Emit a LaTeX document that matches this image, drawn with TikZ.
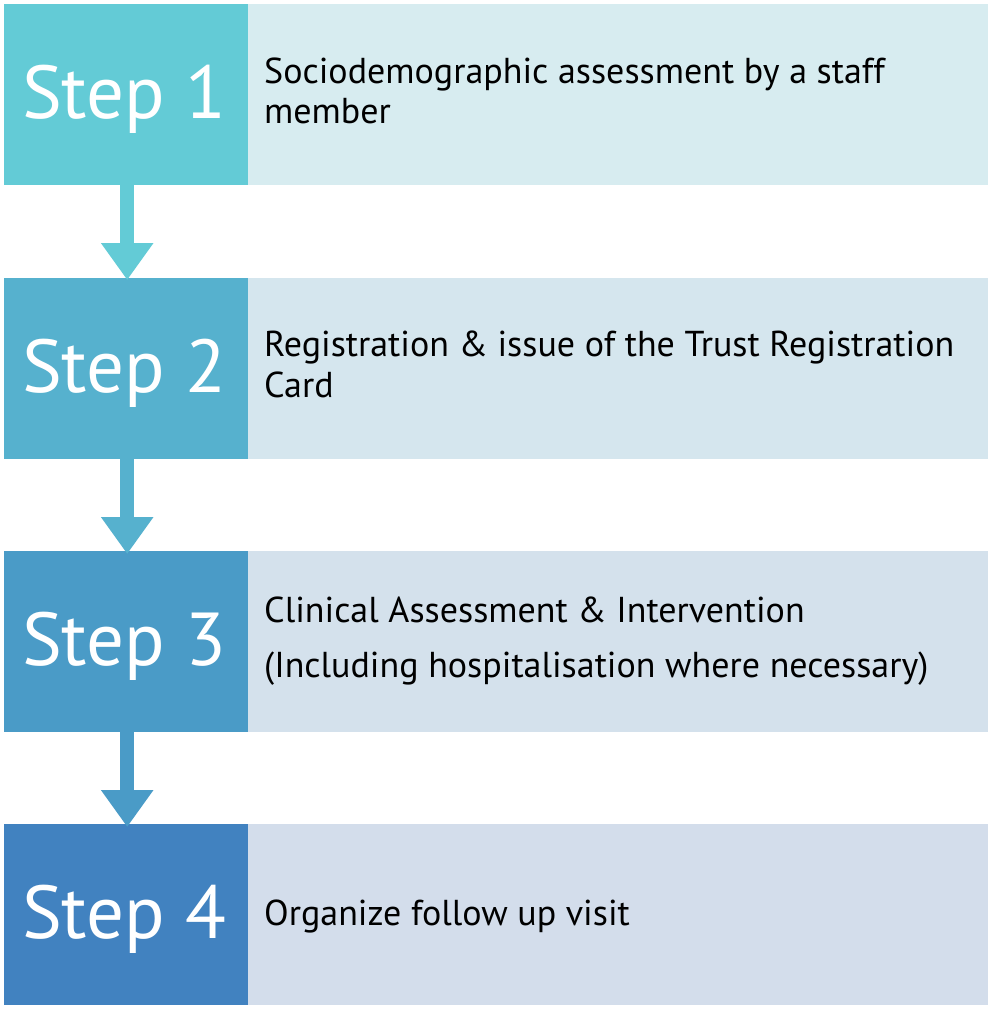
\documentclass[tikz,border=0pt]{standalone}
\usepackage{fontspec}
\setmainfont{PT Sans}
\usetikzlibrary{arrows.meta}
\definecolor{dA}{RGB}{99,203,214}
\definecolor{dB}{RGB}{86,177,206}
\definecolor{dC}{RGB}{74,155,199}
\definecolor{dD}{RGB}{65,130,192}
\definecolor{lA}{RGB}{215,236,240}
\definecolor{lB}{RGB}{213,230,238}
\definecolor{lC}{RGB}{212,225,236}
\definecolor{lD}{RGB}{211,221,235}
\tikzset{
  stepbox/.style={draw=none, inner sep=0pt, minimum width=244pt, minimum height=181pt, anchor=north west},
  descbox/.style={draw=none, inner sep=0pt, minimum width=740pt, minimum height=181pt, anchor=north west},
  steplabel/.style={text=white, inner sep=0pt, anchor=base, font=\fontsize{75}{75}\selectfont},
  desclabel/.style={text=black, inner sep=0pt, anchor=base west, font=\fontsize{36}{36}\selectfont},
  flow/.style={line width=14pt, -{Triangle[width=50pt,length=37pt]}}
}
\begin{document}
\begin{tikzpicture}[x=1pt,y=-1pt]
\useasboundingbox (0,0) rectangle (994,1014);
\fill[white] (0,0) rectangle (994,1014);
% boxes
\node[stepbox, fill=dA] (s1) at (4,4) {};
\node[descbox, fill=lA] (d1) at (248,4) {};
\node[stepbox, fill=dB] (s2) at (4,278) {};
\node[descbox, fill=lB] (d2) at (248,278) {};
\node[stepbox, fill=dC] (s3) at (4,551) {};
\node[descbox, fill=lC] (d3) at (248,551) {};
\node[stepbox, fill=dD] (s4) at (4,824) {};
\node[descbox, fill=lD] (d4) at (248,824) {};
% step labels
\node[steplabel] (t1) at (124,118) {Step 1};
\node[steplabel] (t2) at (124,392) {Step 2};
\node[steplabel] (t3) at (124,665) {Step 3};
\node[steplabel] (t4) at (124,938) {Step 4};
% descriptions
\node[desclabel] (a1) at (264,84) {Sociodemographic assessment by a staff};
\node[desclabel] (b1) at (264,124) {member};
\node[desclabel] (a2) at (264,356) {Registration \& issue of the Trust Registration};
\node[desclabel] (b2) at (264,397) {Card};
\node[desclabel] (a3) at (264,622) {Clinical Assessment \& Intervention};
\node[desclabel] (b3) at (264,677) {(Including hospitalisation where necessary)};
\node[desclabel] (a4) at (264,925) {Organize follow up visit};
% arrows
\draw[flow, dA] ([xshift=1pt]s1.south) -- ([xshift=1pt,yshift=-2pt]s2.north);
\draw[flow, dB] ([xshift=1pt]s2.south) -- ([xshift=1pt,yshift=-3pt]s3.north);
\draw[flow, dC] ([xshift=1pt]s3.south) -- ([xshift=1pt,yshift=-3pt]s4.north);
\end{tikzpicture}
\end{document}
